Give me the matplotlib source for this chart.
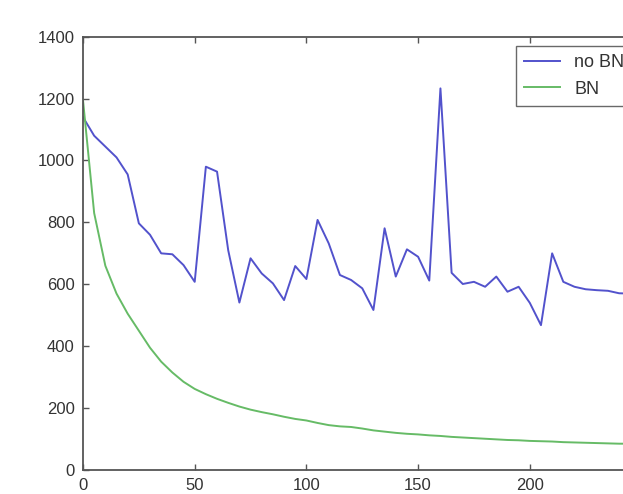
import numpy as np
import matplotlib
matplotlib.use('Agg')
import matplotlib.pyplot as plt

steps = np.arange(0, 255, 5)

no_bn = [1140, 1080, 1045, 1010, 955, 797, 760, 700, 697, 662,
         608, 980, 964, 710, 541, 684, 635, 603, 549, 659,
         617, 808, 732, 630, 614, 587, 517, 781, 625, 713,
         689, 612, 1233, 637, 601, 608, 592, 625, 576, 592,
         540, 468, 700, 608, 592, 584, 581, 579, 571, 570,
         570]

bn = [1195, 830, 660, 570, 505, 450, 395, 350, 315, 285,
      262, 245, 230, 217, 205, 195, 187, 180, 172, 165,
      160, 152, 145, 141, 139, 134, 128, 124, 120, 117,
      115, 112, 110, 107, 105, 103, 101, 99, 97, 96,
      94, 93, 92, 90, 89, 88, 87, 86, 85, 85,
      84]

xticks = [0, 50, 100, 150, 200]
yticks = [0, 200, 400, 600, 800, 1000, 1200, 1400]

plt.rcParams['font.family'] = ['Liberation Sans', 'DejaVu Sans']
fig = plt.figure(figsize=(6.23, 4.94), dpi=100)
# axes run past the right edge, the reference is a cropped screenshot
ax = fig.add_axes([83/623, 24/494, 558.5/623, 433.3/494])

ax.plot(steps, no_bn, color='#5252cc', lw=1.4, label='no BN')
ax.plot(steps, bn, color='#66bb66', lw=1.4, label='BN')

ax.set_xlim(0, 250)
ax.set_ylim(0, 1400)
ax.set_xticks(xticks)
ax.set_yticks(yticks)
ax.tick_params(direction='in', top=True, right=True, length=4, width=1,
               color='#555555', labelsize=12, labelcolor='#333333', pad=6)
for s in ax.spines.values():
    s.set_color('#555555')
    s.set_linewidth(1.3)

leg = ax.legend(loc='upper right', fontsize=13, fancybox=False,
                handlelength=2.0, borderaxespad=0.5, labelspacing=0.55,
                borderpad=0.45)
leg.get_frame().set_edgecolor('#444444')
leg.get_frame().set_linewidth(1.0)
for t in leg.get_texts():
    t.set_color('#333333')

fig.savefig('out.png', dpi=100)
